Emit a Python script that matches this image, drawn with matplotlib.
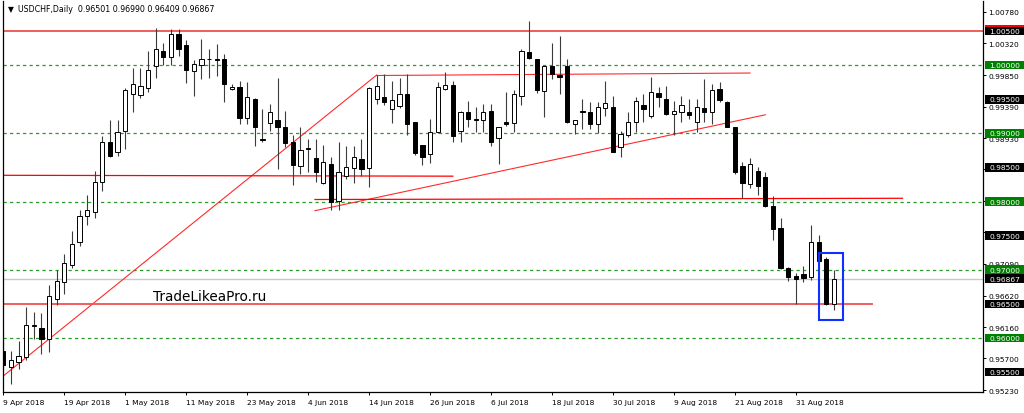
import matplotlib
matplotlib.use('Agg')
import matplotlib.pyplot as plt
from matplotlib.patches import Rectangle
import matplotlib.transforms as mtransforms

# daily USDCHF candles, 9 Apr 2018 .. 7 Sep 2018
opens = [0.9581, 0.9557, 0.9565, 0.9572, 0.9617, 0.9614, 0.9598, 0.9657, 0.9682, 0.9707,
         0.9741, 0.9779, 0.9785, 0.9828, 0.9888, 0.9873, 0.9904, 0.9958, 0.9956, 0.9967,
         0.9998, 1.0020, 1.0012, 1.0046, 1.0030, 0.9992, 1.0000, 1.0009, 1.0009, 1.0009,
         0.99655, 0.9968, 0.9923, 0.9951, 0.9891, 0.9915, 0.9920, 0.9910, 0.9888, 0.9852,
         0.9879, 0.9864, 0.9827, 0.9855, 0.9801, 0.9837, 0.9849, 0.9863, 0.9849, 0.9950,
         0.9953, 0.9936, 0.9940, 0.9958, 0.9916, 0.9883, 0.9869, 0.9902, 0.9965, 0.9971,
         0.9903, 0.9931, 0.9921, 0.9919, 0.9933, 0.9893, 0.9916, 0.9915, 0.9955, 1.0019,
         1.0009, 0.9962, 0.9998, 0.9986, 0.9998, 0.9913, 0.9933, 0.9932, 0.9914, 0.9937,
         0.9938, 0.9880, 0.9898, 0.9916, 0.9942, 0.9925, 0.9959, 0.9951, 0.9928, 0.9931,
         0.9932, 0.9917, 0.9937, 0.9932, 0.9965, 0.9946, 0.9909, 0.9852, 0.9826, 0.9845,
         0.9836, 0.9793, 0.9761, 0.9702, 0.9691, 0.9694, 0.9689, 0.9741, 0.9716, 0.96501]
highs = [0.9609, 0.9581, 0.9596, 0.9645, 0.9638, 0.9637, 0.9677, 0.9699, 0.9723, 0.9757,
         0.9787, 0.9809, 0.9845, 0.9896, 0.9919, 0.9919, 0.9966, 0.9996, 0.9996, 1.0020,
         1.0054, 1.0032, 1.0053, 1.0053, 1.0037, 1.0007, 1.0038, 1.0024, 1.0031, 1.0016,
         0.9972, 0.9976, 0.9975, 0.9952, 0.9936, 0.9943, 0.9981, 0.9933, 0.9897, 0.9910,
         0.9892, 0.9892, 0.9883, 0.9865, 0.9887, 0.9881, 0.9882, 0.9892, 0.9968, 0.9985,
         0.9987, 0.9977, 0.9981, 0.9987, 0.9917, 0.9883, 0.9921, 0.9975, 0.9990, 0.9977,
         0.9933, 0.9947, 0.9939, 0.9943, 0.9943, 0.9910, 0.9960, 0.9964, 1.0024, 1.0065,
         1.0009, 0.9999, 1.0032, 1.0042, 1.0009, 0.9920, 0.9950, 0.9946, 0.9946, 0.9976,
         0.9955, 0.9904, 0.9932, 0.9953, 0.9958, 0.9982, 0.9968, 0.9969, 0.9948, 0.9955,
         0.9951, 0.9951, 0.9980, 0.9972, 0.9975, 0.9948, 0.9909, 0.9858, 0.9864, 0.9850,
         0.9844, 0.9808, 0.9776, 0.9704, 0.9695, 0.9706, 0.9765, 0.9751, 0.9718, 0.96990]
lows = [0.9553, 0.9533, 0.9555, 0.9567, 0.9599, 0.9577, 0.9579, 0.9648, 0.9665, 0.9702,
        0.9735, 0.9765, 0.9776, 0.9815, 0.9866, 0.9867, 0.9877, 0.9932, 0.9952, 0.9961,
        0.9981, 1.0000, 1.0000, 1.0013, 0.9974, 0.9955, 0.9980, 0.9981, 0.9984, 0.9946,
        0.9963, 0.9914, 0.9914, 0.9882, 0.9888, 0.9904, 0.9848, 0.9880, 0.9824, 0.9840,
        0.9843, 0.9828, 0.9826, 0.9787, 0.9787, 0.9833, 0.9827, 0.9838, 0.9822, 0.9943,
        0.9941, 0.9915, 0.9937, 0.9898, 0.9868, 0.9854, 0.9857, 0.9901, 0.9964, 0.9887,
        0.9887, 0.9909, 0.9902, 0.9902, 0.9882, 0.9855, 0.9911, 0.9902, 0.9941, 1.0009,
        0.9959, 0.9924, 0.9980, 0.9958, 0.9915, 0.9899, 0.9906, 0.9906, 0.9900, 0.9925,
        0.9872, 0.9865, 0.9894, 0.9902, 0.9917, 0.9922, 0.9938, 0.9927, 0.9898, 0.9917,
        0.9921, 0.9902, 0.9917, 0.9914, 0.9946, 0.9909, 0.9840, 0.9805, 0.9820, 0.9810,
        0.9792, 0.9744, 0.9701, 0.9684, 0.9650, 0.9682, 0.9685, 0.9713, 0.9648, 0.96409]
closes = [0.9560, 0.9568, 0.9573, 0.9619, 0.9619, 0.9598, 0.9661, 0.9683, 0.9710, 0.9738,
          0.9779, 0.9787, 0.9828, 0.9888, 0.9867, 0.9902, 0.9963, 0.9973, 0.9969, 0.9993,
          1.0023, 1.0012, 1.0046, 1.0023, 0.9993, 1.0002, 1.0009, 1.0009, 1.0008, 0.9972,
          0.9968, 0.9923, 0.9953, 0.9909, 0.9890, 0.9931, 0.9909, 0.9886, 0.9854, 0.9875,
          0.9877, 0.9843, 0.9858, 0.9800, 0.9844, 0.9850, 0.9865, 0.9848, 0.9966, 0.9970,
          0.9946, 0.9949, 0.9958, 0.9914, 0.9871, 0.9865, 0.9902, 0.9968, 0.9971, 0.9896,
          0.9932, 0.9921, 0.9920, 0.9931, 0.9887, 0.9910, 0.9914, 0.9957, 1.0020, 1.0010,
          0.9963, 0.9998, 0.9987, 0.9982, 0.9916, 0.9920, 0.9932, 0.9914, 0.9939, 0.9945,
          0.9873, 0.9899, 0.9917, 0.9948, 0.9935, 0.9961, 0.9953, 0.9928, 0.9933, 0.9942,
          0.9927, 0.9938, 0.9932, 0.9964, 0.9949, 0.9910, 0.9843, 0.9827, 0.9855, 0.9823,
          0.9793, 0.9760, 0.9702, 0.9690, 0.9687, 0.9688, 0.9741, 0.9713, 0.9650, 0.96867]

tick_bars = [0, 8, 16, 24, 32, 40, 48, 56, 64, 72, 80, 88, 96, 104]
tick_labels = ['9 Apr 2018', '19 Apr 2018', '1 May 2018', '11 May 2018', '23 May 2018',
               '4 Jun 2018', '14 Jun 2018', '26 Jun 2018', '6 Jul 2018', '18 Jul 2018',
               '30 Jul 2018', '9 Aug 2018', '21 Aug 2018', '31 Aug 2018']
price_ticks = [1.00780, 1.00320, 0.99850, 0.99390, 0.98930, 0.98470, 0.98010,
               0.97550, 0.97090, 0.96620, 0.96160, 0.95700, 0.95230]
# these scale labels sit fully under the level boxes in the screenshot
hidden_ticks = [0.98470, 0.98010, 0.97550]
green_levels = [1.0000, 0.9900, 0.9800, 0.9700, 0.9600]
black_levels = [1.0050, 0.9950, 0.9850, 0.9750, 0.9650, 0.9550]
bid = 0.96867

# drawn objects: (bar, price) end points
diag_line = ([-0.04, 49.0], [0.9544, 0.99855])
top_flat = ([49.0, 98.0], [0.99848, 0.99884])
support_line = ([-0.5, 59.0], [0.98385, 0.98372])
low_flat = ([40.9, 118.0], [0.98030, 0.98048])
rising_line = ([40.9, 100.0], [0.97866, 0.99272])
line_9650 = ([-0.5, 114.0], [0.9650, 0.9650])
box_bars = (107.0, 110.2)
box_prices = (0.96268, 0.97242)

fig = plt.figure(figsize=(10.24, 4.14), dpi=100)
ax = fig.add_axes([3 / 1024, 21 / 414, 980 / 1024, 391 / 414])
ax.set_xlim(-0.04, 128.57)
ax.set_ylim(0.95208, 1.00940)

fs = 5.4
plt.rcParams['font.family'] = ['DejaVu Sans']

# levels
for lv in green_levels:
    ax.axhline(lv, color='#2a9a2a', lw=0.9, ls=(0, (2.6, 2.6)), zorder=1)
ax.axhline(1.0050, color='#f05050', lw=1.3, zorder=1)
ax.axhline(bid, color='#c8c8c8', lw=1.0, zorder=1)

for xs, ys in [diag_line, top_flat, rising_line]:
    ax.plot(xs, ys, color='#ff2a2a', lw=0.8, zorder=1)
for xs, ys in [support_line, low_flat]:
    ax.plot(xs, ys, color='#ff0000', lw=0.9, zorder=1)
ax.plot(line_9650[0], line_9650[1], color='#f05050', lw=1.3, zorder=1)

# candles
w = 0.56
for i in range(len(opens)):
    o, h, l, c = opens[i], highs[i], lows[i], closes[i]
    ax.vlines(i, l, h, color='#3c3c3c', lw=0.8, zorder=2)
    bottom = min(o, c)
    hgt = max(abs(c - o), 0.00004)
    face = 'white' if c >= o else 'black'
    ax.add_patch(Rectangle((i - w / 2, bottom), w, hgt, facecolor=face,
                           edgecolor='black', lw=0.7, zorder=3))

ax.add_patch(Rectangle((box_bars[0], box_prices[0]), box_bars[1] - box_bars[0],
                       box_prices[1] - box_prices[0], fill=False,
                       edgecolor='#1030ff', lw=1.5, zorder=4))

ax.text(19.6, 0.96616, 'TradeLikeaPro.ru', fontsize=9.8, color='black',
        va='center', ha='left', zorder=5)

# header
ax.text(5 / 980, 1 - 8 / 391, '\u25bc', transform=ax.transAxes, fontsize=5.5,
        va='center', ha='left')
ax.text(15 / 980, 1 - 8 / 391,
        'USDCHF,Daily  %.5f %.5f %.5f %.5f' % (opens[-1], highs[-1], lows[-1], closes[-1]),
        transform=ax.transAxes, fontsize=5.7, va='center', ha='left')

# axes styling
for s in ['left', 'bottom', 'right']:
    ax.spines[s].set_linewidth(0.9)
    ax.spines[s].set_color('black')
ax.spines['top'].set_visible(False)

ax.yaxis.tick_right()
ax.set_yticks(price_ticks)
ax.set_yticklabels(['' if p in hidden_ticks else '%.5f' % p for p in price_ticks])
ax.tick_params(axis='y', which='both', direction='out', length=2.2, width=0.7,
               pad=1.5, labelsize=fs, colors='black', left=False)
ax.set_xticks(tick_bars)
ax.set_xticklabels(tick_labels, ha='left')
ax.tick_params(axis='x', direction='out', length=2.4, width=0.7, pad=2.5,
               labelsize=fs, colors='black')

# price boxes on the right scale
trans = mtransforms.blended_transform_factory(ax.transAxes, ax.transData)
bh = 0.00128
bx = 982 / 980 + 0.0002
bw = 45 / 980
for lv, col in [(lv, '#008000') for lv in green_levels] + \
               [(lv, 'black') for lv in black_levels] + [(bid, 'black')]:
    ax.add_patch(Rectangle((bx, lv - bh / 2), bw, bh, transform=trans,
                           facecolor=col, edgecolor='none', clip_on=False, zorder=6))
    ax.text(986 / 980, lv, '%.5f' % lv, transform=trans, color='white', fontsize=fs,
            va='center', ha='left', clip_on=False, zorder=7)
ax.add_patch(Rectangle((bx, 1.0050 + bh / 2), bw, 0.00022, transform=trans,
                       facecolor='#ff0000', edgecolor='none', clip_on=False, zorder=6))

fig.savefig('out.png', dpi=100, facecolor='white')
